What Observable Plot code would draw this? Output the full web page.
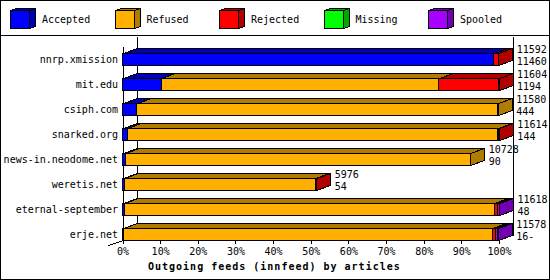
<!DOCTYPE html>
<html>
<head>
<meta charset="utf-8">
<script src="https://cdn.jsdelivr.net/npm/d3@7"></script>
<script src="https://cdn.jsdelivr.net/npm/@observablehq/plot@0.6"></script>
<style>
html, body { margin: 0; padding: 0; background: #fff; }
#frame { position: absolute; left: 0; top: 0; width: 550px; height: 280px; border: 1px solid #000; box-sizing: border-box; background: #fff; overflow: hidden; font-family: "DejaVu Sans Mono", monospace; color: #000; }
#legend { height: 35px; box-sizing: border-box; border-bottom: 1px solid #000; display: flex; align-items: flex-start; padding-left: 9px; padding-top: 7px; }
.item { flex: none; width: 104.5px; display: flex; align-items: center; font-size: 10px; }
.item svg { flex: none; display: block; }
.item span { margin-left: 4px; }
#chart svg { display: block; shape-rendering: crispEdges; }
#caption { height: 21px; line-height: 17px; padding-left: 147px; font-weight: bold; font-size: 10px; letter-spacing: 1px; white-space: nowrap; }
</style>
</head>
<body>
<div id="frame">
  <div id="legend"></div>
  <div id="chart"></div>
  <div id="caption"></div>
</div>
<script>
// ---- data ----
const feeds = ["nnrp.xmission", "mit.edu", "csiph.com", "snarked.org", "news-in.neodome.net", "weretis.net", "eternal-september", "erje.net"];
const accepted = [11460, 1194, 444, 144, 90, 54, 48, 16];
const refused  = [0, 8570, 11136, 11440, 10638, 5892, 11420, 11400];
const rejected = [132, 1840, 0, 30, 0, 30, 90, 80];
const missing  = [0, 0, 0, 0, 0, 0, 0, 0];
const spooled  = [0, 0, 0, 0, 0, 0, 60, 82];
const totals   = [11592, 11604, 11580, 11614, 10728, 5976, 11618, 11578];
const detailLabels = ["11460", "1194", "444", "144", "90", "54", "48", "16-"];
const types = ["Accepted", "Refused", "Rejected", "Missing", "Spooled"];
const typeColors = ["#0000ff", "#ffb000", "#ff0000", "#00ff00", "#a600ff"];
const typeDark   = ["#0000b0", "#b07c00", "#b00000", "#00a800", "#7200b0"];
const tickPercents = [0, 10, 20, 30, 40, 50, 60, 70, 80, 90, 100];
const tickLabels = ["0%", "10%", "20%", "30%", "40%", "50%", "60%", "70%", "80%", "90%", "100%"];
const captionText = "Outgoing feeds (innfeed) by articles";

const series = [accepted, refused, rejected, missing, spooled];
const maxTotal = d3.max(totals);

// long table of stacked segments
const segments = [];
feeds.forEach((feed, i) => {
  let cum = 0;
  series.forEach((arr, s) => {
    const v = arr[i];
    if (v > 0) segments.push({feed, type: types[s], s, x1: cum, x2: cum + v});
    cum += v;
  });
});

const DX = 14, DY = 5; // 3D depth (pixels)
const ns = "http://www.w3.org/2000/svg";

function bandInfo(y) {
  const step = y(feeds[1]) - y(feeds[0]);
  let bw;
  if (typeof y.bandwidth === "function") bw = y.bandwidth();
  else if (typeof y.bandwidth === "number") bw = y.bandwidth;
  else bw = step * 0.48;
  return bw;
}

function poly(points, fill) {
  const p = document.createElementNS(ns, "polygon");
  p.setAttribute("points", points.map(q => q.join(",")).join(" "));
  p.setAttribute("fill", fill);
  p.setAttribute("stroke", "#000");
  p.setAttribute("stroke-width", 1);
  return p;
}
function line(x1, y1, x2, y2) {
  const l = document.createElementNS(ns, "line");
  l.setAttribute("x1", x1); l.setAttribute("y1", y1);
  l.setAttribute("x2", x2); l.setAttribute("y2", y2);
  l.setAttribute("stroke", "#000");
  return l;
}

// back wall / frame lines
function frameLines(index, scales, values, dims) {
  const {x, y} = scales;
  const bw = bandInfo(y);
  const g = document.createElementNS(ns, "g");
  g.setAttribute("transform", "translate(0.5,0.5)");
  const x0 = Math.round(x(0)), x1 = Math.round(x(maxTotal));
  const yTop = y(feeds[0]);
  const yBot = y(feeds[feeds.length - 1]) + bw;
  g.append(line(x0 + DX, 0, x0 + DX, yBot - DY));
  g.append(line(x1 + DX, 0, x1 + DX, yBot - DY));
  g.append(line(x0, yTop - DY - 2, x0, yBot));
  g.append(line(x0, yBot, x0 - DX - 1, yBot + DY));
  return g;
}

// 3D top and side faces
function faces(index, scales, values, dims) {
  const {x, y} = scales;
  const bw = bandInfo(y);
  const g = document.createElementNS(ns, "g");
  g.setAttribute("transform", "translate(0.5,0.5)");
  feeds.forEach(feed => {
    const segs = segments.filter(d => d.feed === feed);
    const y0 = Math.round(y(feed));
    const y1 = y0 + Math.round(bw);
    segs.forEach(d => {
      const a = Math.round(x(d.x1)), b = Math.round(x(d.x2));
      g.append(poly([[a, y0], [b, y0], [b + DX, y0 - DY], [a + DX, y0 - DY]], typeDark[d.s]));
    });
    const last = segs[segs.length - 1];
    const b = Math.round(x(last.x2));
    g.append(poly([[b, y0], [b + DX, y0 - DY], [b + DX, y1 - DY], [b, y1]], typeDark[last.s]));
  });
  return g;
}

const chart = Plot.plot({
  width: 548,
  height: 222,
  marginLeft: 121.5,
  marginRight: 50,
  marginTop: 17,
  marginBottom: 18,
  style: {fontFamily: "DejaVu Sans Mono, monospace", fontSize: "10px", color: "#000", background: "transparent", overflow: "visible"},
  x: {domain: [0, maxTotal], label: null},
  y: {type: "band", domain: feeds, paddingInner: 0.52, paddingOuter: 0, align: 0.5, label: null},
  color: {domain: types, range: typeColors},
  marks: [
    frameLines,
    Plot.barX(segments, {x1: "x1", x2: "x2", y: "feed", fill: "type", stroke: "#000", strokeWidth: 1}),
    faces,
    Plot.axisX({ticks: tickPercents.map(p => p / 100 * maxTotal), tickFormat: (d, i) => tickLabels[i], tickSize: 4, tickPadding: 3, label: null}),
    Plot.axisY({tickSize: 0, tickPadding: 5, label: null}),
    Plot.text(feeds, {x: (d, i) => totals[i], y: d => d, text: (d, i) => String(totals[i]), dx: 18, dy: -10, textAnchor: "start", fill: "#000"}),
    Plot.text(feeds, {x: (d, i) => totals[i], y: d => d, text: (d, i) => detailLabels[i], dx: 18, dy: 2, textAnchor: "start", fill: "#000"})
  ]
});
document.getElementById("chart").append(chart);

// legend (3D cubes)
const legend = document.getElementById("legend");
types.forEach((t, s) => {
  const item = document.createElement("div");
  item.className = "item";
  item.innerHTML =
    `<svg width="28" height="22" style="shape-rendering:crispEdges">` +
    `<g transform="translate(0.5,0.5)">` +
    `<polygon points="0,2 19,2 25,0 6,0" fill="${typeDark[s]}" stroke="#000"/>` +
    `<polygon points="19,2 25,0 25,18 19,20" fill="${typeDark[s]}" stroke="#000"/>` +
    `<rect x="0" y="2" width="19" height="18" fill="${typeColors[s]}" stroke="#000"/>` +
    `</g></svg><span>${t}</span>`;
  legend.append(item);
});
document.getElementById("caption").textContent = captionText;
</script>
</body>
</html>
